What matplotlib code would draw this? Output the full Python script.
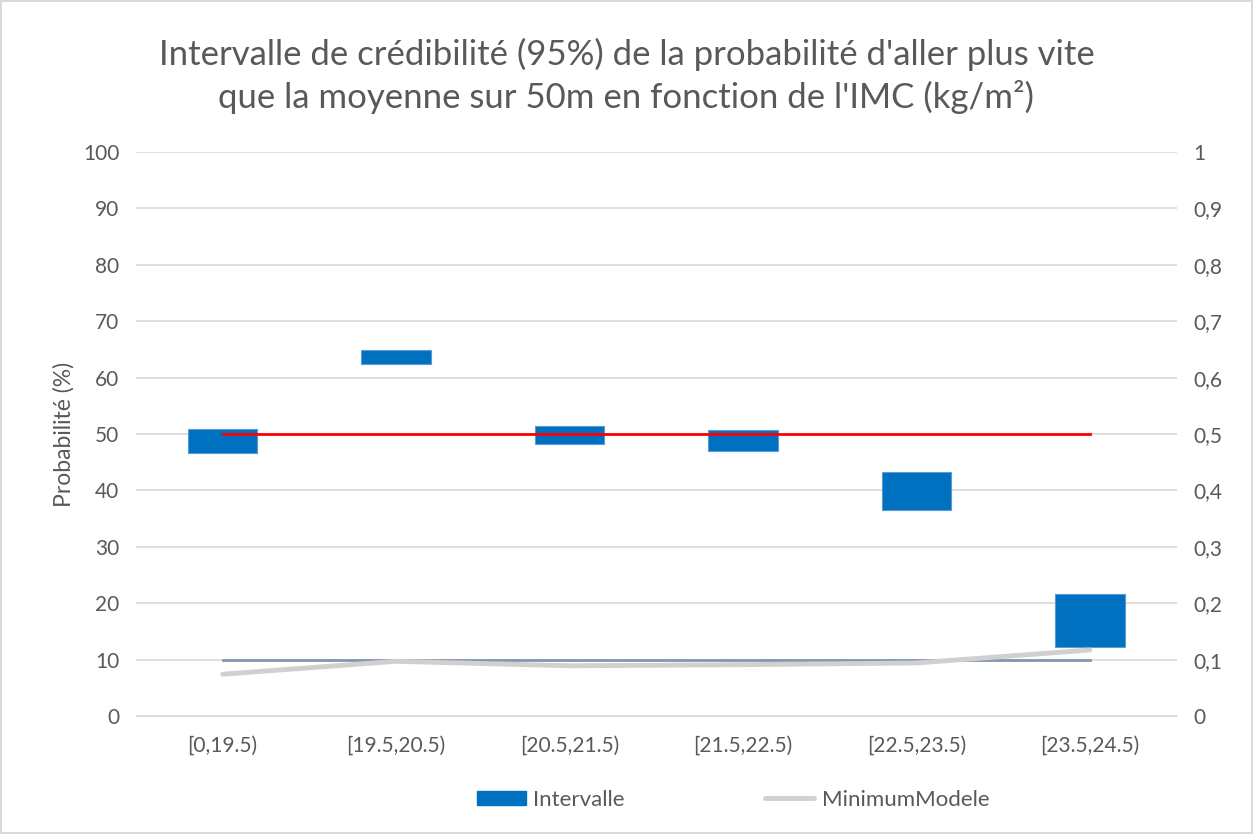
import matplotlib.pyplot as plt
import numpy as np
from matplotlib.patches import Patch
from matplotlib.lines import Line2D

plt.rcParams['font.family'] = ['Lato', 'DejaVu Sans']

categories = ['[0,19.5)', '[19.5,20.5)', '[20.5,21.5)', '[21.5,22.5)', '[22.5,23.5)', '[23.5,24.5)']
interval_low = [46.6, 62.5, 48.2, 46.9, 36.6, 12.2]
interval_high = [50.9, 64.9, 51.4, 50.8, 43.2, 21.6]
reference_50 = [50, 50, 50, 50, 50, 50]
reference_10 = [10, 10, 10, 10, 10, 10]
minimum_modele = [0.074, 0.097, 0.089, 0.091, 0.094, 0.117]

left_ticks = list(range(0, 101, 10))
right_ticks = [0, 0.1, 0.2, 0.3, 0.4, 0.5, 0.6, 0.7, 0.8, 0.9, 1]
right_labels = ['0', '0,1', '0,2', '0,3', '0,4', '0,5', '0,6', '0,7', '0,8', '0,9', '1']

text_col = '#595959'
grid_col = '#D9D9D9'

fig = plt.figure(figsize=(12.53, 8.34), dpi=100)
fig.patch.set_edgecolor('#D9D9D9')
fig.patch.set_linewidth(1.5)
ax = fig.add_axes([0.1085, 0.1415, 0.8305, 0.6762])
ax2 = ax.twinx()

x = np.arange(len(categories))
heights = np.array(interval_high) - np.array(interval_low)
ax.bar(x, heights, bottom=interval_low, width=0.40, color='#0070C0',
       edgecolor='#5B9BD5', linewidth=0.8, zorder=3)
ax.plot(x, reference_50, color='#FF0000', lw=2, zorder=4)
ax.plot(x, reference_10, color='#8497B0', lw=2, zorder=4)
ax2.plot(x, minimum_modele, color='#D0D0D0', lw=3.5, solid_capstyle='round', zorder=2)

ax.set_ylim(0, 100)
ax2.set_ylim(0, 1)
ax.set_xlim(-0.5, len(categories) - 0.5)
ax.set_yticks(left_ticks)
ax2.set_yticks(right_ticks)
ax2.set_yticklabels(right_labels)
ax.set_xticks(x)
ax.set_xticklabels(categories)

ax.grid(axis='y', color=grid_col, lw=1.2, zorder=0)
ax.set_axisbelow(True)
for a in (ax, ax2):
    for s in a.spines.values():
        s.set_visible(False)
    a.tick_params(length=0, labelsize=15, colors=text_col, pad=12)
ax.spines['bottom'].set_visible(True)
ax.spines['bottom'].set_color(grid_col)
ax.tick_params(axis='x', pad=14)

ax.set_ylabel('Probabilité (%)', fontsize=16.5, color=text_col, labelpad=6)

fig.text(0.5, 0.909, "Intervalle de crédibilité (95%) de la probabilité d'aller plus vite\nque la moyenne sur 50m en fonction de l'IMC (kg/m²)",
         ha='center', va='center', fontsize=25, color=text_col, linespacing=1.3)

handles = [Patch(facecolor='#0070C0', edgecolor='#0070C0'),
           Line2D([0], [0], color='#D0D0D0', lw=3.5, solid_capstyle='round')]
fig.legend(handles, ['Intervalle', 'MinimumModele'], loc='center', bbox_to_anchor=(0.585, 0.041),
           ncol=2, frameon=False, fontsize=16, labelcolor=text_col,
           handlelength=2.2, handletextpad=0.35, columnspacing=6.3, handleheight=0.6)

fig.savefig('out.png', dpi=100)
